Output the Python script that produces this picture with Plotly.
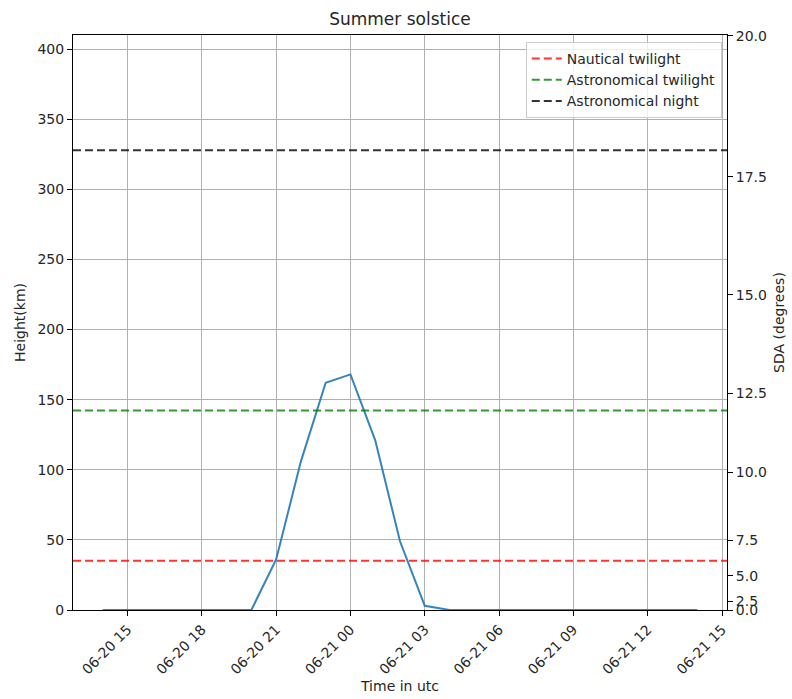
import pandas as pd
import plotly.graph_objects as go

# ---- data ----
times = pd.date_range("2020-06-20 14:00", periods=25, freq="h")
height_km = [0, 0, 0, 0, 0, 0, 0,
             36, 106, 162, 168, 121, 49, 3,
             0, 0, 0, 0, 0, 0, 0, 0, 0, 0, 0]

twilight_names = ["Nautical twilight", "Astronomical twilight", "Astronomical night"]
twilight_heights = [35.1, 142.3, 327.9]
twilight_colors = ["rgba(255,0,0,0.8)", "rgba(0,128,0,0.8)", "rgba(0,0,0,0.8)"]

sda_tick_labels = ["0.0", "2.5", "5.0", "7.5", "10.0", "12.5", "15.0", "17.5", "20.0"]
sda_tick_heights = [0, 6.2, 24.3, 49.9, 98.3, 154.7, 224.8, 309.0, 409.5]

height_ticks = [0, 50, 100, 150, 200, 250, 300, 350, 400]

FONT = "DejaVu Sans"
TXT = "#262626"

fig = go.Figure()
fig.add_trace(go.Scatter(
    x=times, y=height_km, mode="lines",
    line=dict(color="rgba(31,119,180,0.9)", width=2),
    showlegend=False, hoverinfo="skip"))

# dummy trace to activate the secondary axis
fig.add_trace(go.Scatter(x=[times[0]], y=[0], yaxis="y2", mode="markers",
                         marker=dict(opacity=0), showlegend=False, hoverinfo="skip"))

for name, h, c in zip(twilight_names, twilight_heights, twilight_colors):
    fig.add_hline(y=h, line=dict(color=c, width=2, dash="8px,4px"),
                  showlegend=True, name=name, layer="above")

yr = [0, 410]
fig.update_layout(
    width=792, height=699,
    margin=dict(l=73, r=65, t=35, b=89),
    paper_bgcolor="white", plot_bgcolor="white",
    font=dict(family=FONT, size=14, color=TXT),
    title=dict(text="Summer solstice", x=0.505, xanchor="center", y=0.973, yanchor="middle",
               font=dict(size=17, color=TXT)),
    xaxis=dict(
        type="date", automargin=False,
        range=["2020-06-20 12:48", "2020-06-21 15:12"],
        tick0="2020-06-20 00:00", dtick=3 * 3600 * 1000,
        tickformat="%m-%d %H", tickangle=-45,
        showgrid=True, gridcolor="#b0b0b0", gridwidth=1,
        showline=True, linecolor="black", linewidth=1, mirror=True,
        ticks="outside", ticklen=5, tickcolor="black",
        tickfont=dict(size=14, color=TXT),
        title=dict(text="Time in utc", font=dict(size=14, color=TXT), standoff=4),
        zeroline=False,
    ),
    yaxis=dict(
        range=yr, tickvals=height_ticks, automargin=False,
        showgrid=True, gridcolor="#b0b0b0", gridwidth=1,
        showline=True, linecolor="black", linewidth=1,
        ticks="outside", ticklen=5, tickcolor="black",
        tickfont=dict(size=14, color=TXT),
        title=dict(text="Height(km)", font=dict(size=14, color=TXT), standoff=8),
        zeroline=False,
    ),
    yaxis2=dict(
        overlaying="y", side="right", range=yr, automargin=False,
        tickvals=sda_tick_heights, ticktext=sda_tick_labels,
        showgrid=False, zeroline=False,
        showline=True, linecolor="black", linewidth=1,
        ticks="outside", ticklen=5, tickcolor="black",
        tickfont=dict(size=14, color=TXT),
        title=dict(text="SDA (degrees)", font=dict(size=14, color=TXT), standoff=8),
    ),
    legend=dict(
        x=0.992, y=0.988, xanchor="right", yanchor="top",
        bgcolor="rgba(255,255,255,0.8)", bordercolor="#cccccc", borderwidth=1,
        font=dict(size=14, color=TXT), tracegroupgap=0, itemwidth=30,
    ),
)

fig.write_html("out.html")
